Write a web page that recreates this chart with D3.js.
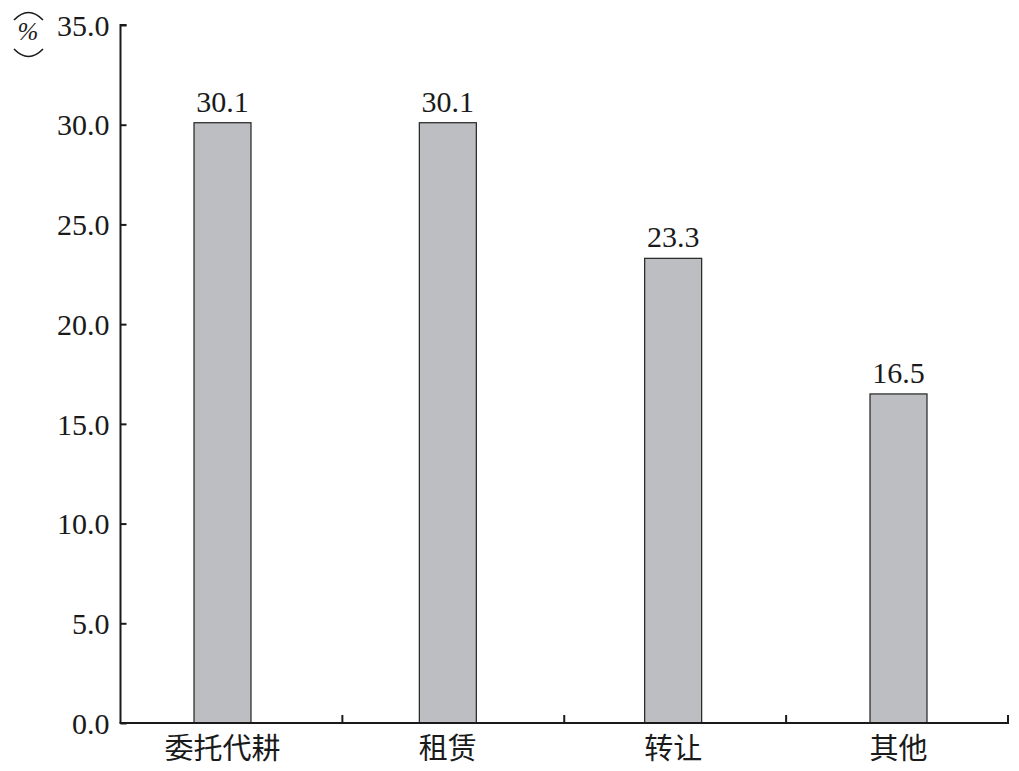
<!DOCTYPE html>
<html><head><meta charset="utf-8">
<script src="https://cdn.jsdelivr.net/npm/d3@7"></script>
<style>html,body{margin:0;padding:0;background:#fff;}svg{display:block;}</style>
</head><body>
<svg id="c" width="1019" height="771"></svg>
<script>
const categories = ["委托代耕", "租赁", "转让", "其他"];
const values = [30.1, 30.1, 23.3, 16.5];
const yTicks = [0, 5, 10, 15, 20, 25, 30, 35];

const svg = d3.select("#c");
const numFont = "Liberation Serif, Times New Roman, serif";
const cjkFont = "Noto Sans CJK SC, sans-serif";

const y = d3.scaleLinear().domain([0, 35]).range([723, 25]);
const xBand = d3.scaleBand().domain(categories).range([120.5, 1008]);
const xPt = d3.scalePoint().domain(categories).range([222.5, 898.5]);
const barW = 57;

// bars
svg.selectAll("rect.bar").data(values).join("rect")
  .attr("class", "bar")
  .attr("x", (d, i) => xPt(categories[i]) - barW / 2)
  .attr("y", d => y(d))
  .attr("width", barW)
  .attr("height", d => y(0) - y(d))
  .attr("fill", "#bdbec1")
  .attr("stroke", "#222")
  .attr("stroke-width", 1.2);

// value labels
svg.selectAll("text.val").data(values).join("text")
  .attr("class", "val")
  .attr("x", (d, i) => xPt(categories[i]))
  .attr("y", d => y(d) - 11)
  .attr("text-anchor", "middle")
  .style("font-family", numFont)
  .style("font-size", "30px")
  .attr("fill", "#1a1a1a")
  .text(d => d.toFixed(1));

// y axis
const yAxis = d3.axisRight(y).tickValues(yTicks).tickSize(6).tickFormat(d => d3.format(".1f")(d));
const gy = svg.append("g").attr("transform", "translate(120.5,0)").call(yAxis);
gy.attr("font-family", null).attr("font-size", null);
gy.select(".domain").attr("d", `M6,${y(35)}H0V${y(0)}`).attr("stroke", "#1a1a1a").attr("stroke-width", 2);
gy.selectAll(".tick line").attr("stroke", "#1a1a1a").attr("stroke-width", 2);
gy.selectAll(".tick text")
  .attr("x", -11).attr("dy", "0.34em")
  .attr("text-anchor", "end")
  .style("font-family", numFont).style("font-size", "30px").attr("fill", "#1a1a1a");

// x axis (ticks at band boundaries, pointing up)
const bounds = categories.map(c => xBand(c)).concat([xBand.range()[1]]);
const gx = svg.append("g");
gx.append("line")
  .attr("x1", bounds[0] - 1).attr("x2", bounds[bounds.length - 1] + 1)
  .attr("y1", y(0)).attr("y2", y(0))
  .attr("stroke", "#1a1a1a").attr("stroke-width", 2);
gx.selectAll("line.tk").data(bounds.slice(1)).join("line")
  .attr("class", "tk")
  .attr("x1", d => d).attr("x2", d => d)
  .attr("y1", y(0)).attr("y2", y(0) - 8)
  .attr("stroke", "#1a1a1a").attr("stroke-width", 2);
gx.selectAll("text.cat").data(categories).join("text")
  .attr("class", "cat")
  .attr("x", d => xPt(d))
  .attr("y", 759)
  .attr("text-anchor", "middle")
  .style("font-family", cjkFont)
  .style("font-size", "29px")
  .attr("fill", "#1a1a1a")
  .text(d => d);

// unit label: vertical brackets around %
const unit = svg.append("g");
unit.append("path").attr("d", "M14,20 Q28.5,5 43,20").attr("fill", "none").attr("stroke", "#1a1a1a").attr("stroke-width", 1.6);
unit.append("text").attr("x", 28).attr("y", 40).attr("text-anchor", "middle")
  .style("font-family", numFont).style("font-size", "25px").style("font-style", "italic")
  .attr("fill", "#1a1a1a").text("%");
unit.append("path").attr("d", "M14,49 Q28.5,64 43,49").attr("fill", "none").attr("stroke", "#1a1a1a").attr("stroke-width", 1.6);
</script>
</body></html>
